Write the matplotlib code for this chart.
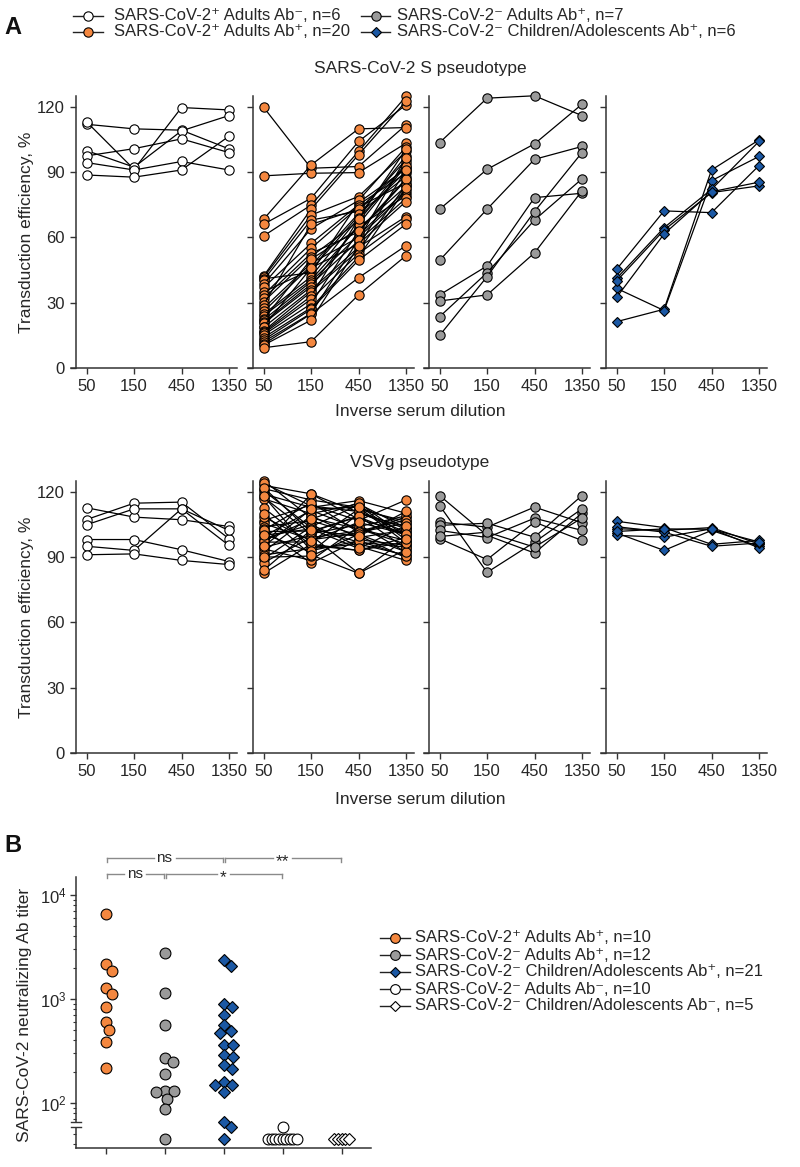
import numpy as np
import matplotlib
matplotlib.use('Agg')
import matplotlib.pyplot as plt
from matplotlib.lines import Line2D
from matplotlib.patches import Rectangle
import matplotlib.transforms as mtransforms
from matplotlib import font_manager

# ---------------- data ----------------
dilutions = ['50', '150', '450', '1350']
yticks_A = [0, 30, 60, 90, 120]

legend_A_labels = ['SARS-CoV-2\u207a Adults Ab\u207b, n=6',
                   'SARS-CoV-2\u207a Adults Ab\u207a, n=20',
                   'SARS-CoV-2\u207b Adults Ab\u207a, n=7',
                   'SARS-CoV-2\u207b Children/Adolescents Ab\u207a, n=6']

# S pseudotype (transduction efficiency %, at 50/150/450/1350)
S_white = [
    [112.0, 109.9, 109.3, 100.7],
    [113.1, 91.3, 119.7, 118.6],
    [99.9, 92.3, 109.0, 116.0],
    [97.5, 100.8, 105.3, 99.0],
    [94.4, 91.0, 94.9, 91.0],
    [88.7, 87.7, 91.0, 106.5],
]
S_orange = [
    [119.8, 91.8, 92.6, 111.7], [88.3, 89.5, 89.8, 103.3], [68.4, 93.3, 109.9, 110.5],
    [66.1, 78.0, 104.1, 120.9], [60.7, 74.9, 99.5, 124.8], [42.3, 73.0, 98.0, 122.5],
    [41.7, 70.3, 78.8, 99.5], [41.0, 43.8, 76.0, 91.5], [40.5, 68.0, 72.0, 95.6],
    [38.6, 64.0, 77.0, 101.5], [37.0, 57.3, 75.0, 89.5], [35.0, 45.1, 70.0, 97.5],
    [33.6, 55.0, 74.0, 85.0], [32.0, 52.7, 62.5, 86.4], [30.5, 51.2, 67.5, 94.0],
    [29.0, 66.0, 73.0, 92.5], [27.5, 48.1, 60.0, 80.5], [26.0, 47.0, 71.0, 88.0],
    [24.7, 42.0, 69.0, 90.5], [24.0, 40.5, 65.0, 79.1], [22.4, 50.0, 64.0, 83.5],
    [22.1, 39.7, 61.0, 81.8], [21.0, 38.5, 58.5, 78.0], [20.5, 37.4, 66.0, 93.0],
    [19.0, 46.0, 57.0, 76.5], [18.7, 35.9, 55.5, 69.6], [17.0, 35.0, 54.0, 84.0],
    [16.5, 33.0, 68.5, 100.5], [15.9, 31.6, 52.5, 68.5], [15.2, 29.5, 63.0, 87.0],
    [14.0, 27.7, 51.0, 82.5], [12.9, 27.0, 49.5, 66.1], [12.1, 25.1, 59.0, 96.5],
    [11.0, 24.8, 41.5, 56.2], [10.5, 22.0, 56.0, 91.0], [9.3, 12.1, 33.6, 51.6],
]
S_gray = [
    [103.6, 124.0, 125.1, 116.0],
    [73.0, 91.3, 103.0, 121.2],
    [49.5, 73.0, 95.9, 101.8],
    [33.6, 46.9, 78.3, 80.3],
    [30.8, 33.6, 52.9, 81.4],
    [23.6, 43.8, 68.0, 86.9],
    [15.0, 42.0, 71.9, 99.0],
]
S_blue = [
    [21.3, 27.0, 91.0, 104.8],
    [36.6, 26.4, 86.1, 97.2],
    [45.4, 72.2, 71.4, 93.0],
    [41.2, 64.5, 82.1, 104.1],
    [40.0, 63.4, 80.6, 83.7],
    [32.5, 61.6, 81.0, 85.4],
]

# VSVg pseudotype
V_white = [
    [112.7, 108.4, 107.2, 104.1],
    [107.3, 114.8, 115.3, 98.5],
    [104.9, 112.2, 112.2, 102.3],
    [98.1, 98.1, 93.4, 88.0],
    [95.0, 93.1, 112.2, 95.4],
    [91.1, 91.5, 88.5, 86.6],
]
V_orange = [
    [125.2, 108.0, 103.0, 97.7], [123.0, 119.1, 110.7, 101.5], [121.5, 116.3, 112.9, 105.3],
    [120.6, 103.5, 96.9, 94.6], [119.0, 112.9, 116.0, 110.2], [117.5, 100.7, 105.0, 92.3],
    [116.8, 110.0, 114.5, 103.5], [112.7, 95.4, 93.1, 99.0], [106.8, 114.0, 106.8, 116.3],
    [105.5, 98.0, 101.0, 108.5], [104.0, 106.8, 100.0, 89.7], [103.0, 87.2, 98.0, 95.5],
    [101.8, 102.0, 108.5, 100.0], [100.7, 92.3, 110.0, 104.0], [99.5, 111.5, 103.0, 96.0],
    [98.5, 105.0, 95.0, 88.5], [96.9, 97.0, 112.0, 106.5], [95.5, 119.0, 107.5, 101.0],
    [94.5, 100.0, 82.6, 93.5], [93.8, 88.5, 104.0, 109.0], [92.5, 109.0, 99.0, 102.5],
    [91.0, 94.0, 96.0, 91.0], [89.2, 104.0, 114.0, 98.0], [87.5, 99.0, 102.0, 107.0],
    [82.6, 96.0, 93.1, 97.0], [124.0, 113.5, 111.0, 103.0], [122.0, 101.5, 109.0, 94.0],
    [118.0, 93.0, 97.5, 90.5], [102.5, 115.0, 101.5, 105.5], [97.5, 107.5, 115.0, 99.5],
    [90.0, 90.5, 100.5, 92.5], [100.0, 103.0, 94.0, 104.5], [108.5, 97.5, 106.0, 100.5],
    [95.0, 112.0, 113.0, 96.5], [84.0, 102.5, 99.5, 111.0], [110.0, 91.0, 82.6, 98.5],
]
V_gray = [
    [118.3, 100.0, 91.9, 110.2],
    [113.7, 83.0, 96.9, 112.2],
    [106.1, 103.8, 113.0, 105.8],
    [104.6, 105.6, 99.2, 118.3],
    [102.3, 99.0, 107.9, 102.3],
    [98.5, 88.9, 106.1, 97.7],
    [99.5, 101.5, 94.6, 108.0],
]
V_blue = [
    [106.5, 103.6, 95.9, 97.7],
    [103.1, 102.3, 103.6, 96.1],
    [101.1, 93.1, 102.3, 95.0],
    [100.0, 99.2, 103.0, 94.3],
    [104.0, 101.5, 95.0, 96.5],
    [101.8, 103.0, 102.8, 97.0],
]

# Panel B: neutralizing Ab titers
B_orange = [6520, 2160, 1860, 1285, 1110, 832, 601, 500, 386, 216]
B_gray = [2790, 1135, 558, 273, 246, 189, 131, 131, 128, 108, 87, 45]
B_blue = [2355, 2075, 896, 838, 702, 562, 495, 470, 359, 359, 290, 275, 230, 211,
          160, 149, 149, 128, 66, 59, 45]
B_white_c = [59, 45, 45, 45, 45, 45, 45, 45, 45, 45]
B_white_d = [45, 45, 45, 45, 45]
legend_B_labels = ['SARS-CoV-2\u207a Adults Ab\u207a, n=10',
                   'SARS-CoV-2\u207b Adults Ab\u207a, n=12',
                   'SARS-CoV-2\u207b Children/Adolescents Ab\u207a, n=21',
                   'SARS-CoV-2\u207b Adults Ab\u207b, n=10',
                   'SARS-CoV-2\u207b Children/Adolescents Ab\u207b, n=5']
sig_row1 = [(0, 2, 'ns'), (2, 4, '**')]
sig_row2 = [(0, 1, 'ns'), (1, 3, '*')]

# ---------------- style ----------------
names = {f.name for f in font_manager.fontManager.ttflist}
BASE = 'Liberation Sans' if 'Liberation Sans' in names else 'DejaVu Sans'
NARROW = 'Liberation Sans Narrow' if 'Liberation Sans Narrow' in names else BASE
plt.rcParams['font.family'] = [BASE, 'DejaVu Sans']
plt.rcParams['mathtext.fontset'] = 'custom'
plt.rcParams['mathtext.rm'] = BASE
plt.rcParams['mathtext.it'] = BASE + ':italic'
plt.rcParams['mathtext.bf'] = BASE + ':bold'

TXT = '#262626'
AXC = '#333333'
ORANGE = '#F4873F'
GRAY = '#9A9A9A'
BLUE = '#1B58A4'
WHITE = '#FFFFFF'

W, H = 800, 1167
fig = plt.figure(figsize=(W / 100, H / 100), dpi=100)


def fx(px):
    return px / W


def fy(py):
    return 1 - py / H


# ---------------- Panel A ----------------
panel_lefts = [71, 248, 424, 601]
PW = 166
rows = [(96, 368, [S_white, S_orange, S_gray, S_blue]),
        (481, 753, [V_white, V_orange, V_gray, V_blue])]
styles = [('o', WHITE, 6.7), ('o', ORANGE, 6.7), ('o', GRAY, 6.7), ('D', BLUE, 5.4)]
x = np.arange(len(dilutions))

for top, bot, datasets in rows:
    for j, (L, data) in enumerate(zip(panel_lefts, datasets)):
        ax = fig.add_axes([fx(L), fy(bot), fx(PW), (bot - top) / H])
        mk, fc, ms = styles[j]
        for series in data:
            ax.plot(x, series, color='black', lw=0.9, marker=mk, ms=ms,
                    mfc=fc, mec='black', mew=0.8, zorder=3, clip_on=False)
        ax.set_xlim(-0.33, 3.17)
        ax.set_ylim(0, 125)
        for s in ['top', 'right']:
            ax.spines[s].set_visible(False)
        ax.spines['left'].set_position(('data', -0.225))
        for s in ['left', 'bottom']:
            ax.spines[s].set_color(AXC)
            ax.spines[s].set_linewidth(1.1)
        ax.set_xticks(x)
        ax.set_xticklabels(dilutions)
        ax.set_yticks(yticks_A)
        if j > 0:
            ax.set_yticklabels([])
        ax.tick_params(direction='out', length=4, width=1.0, colors=AXC,
                       labelcolor=TXT, labelsize=12, pad=4)
    fig.text(fx(27), fy((top + bot) / 2), 'Transduction efficiency, %', rotation=90,
             ha='center', va='center', fontsize=12.5, color=TXT)

fig.text(fx(420), fy(68), 'SARS-CoV-2 S pseudotype', ha='center', va='center',
         fontsize=12.5, color=TXT)
fig.text(fx(420), fy(412), 'Inverse serum dilution', ha='center', va='center',
         fontsize=12.5, color=TXT)
fig.text(fx(420), fy(462), 'VSVg pseudotype', ha='center', va='center',
         fontsize=12.5, color=TXT)
fig.text(fx(420), fy(800), 'Inverse serum dilution', ha='center', va='center',
         fontsize=12.5, color=TXT)


def legend_entry(xl0, xl1, y, marker, face, ms, label, xt):
    fig.add_artist(Line2D([fx(xl0), fx(xl1)], [fy(y), fy(y)], transform=fig.transFigure,
                          color='#222222', lw=1.0))
    fig.add_artist(Line2D([fx((xl0 + xl1) / 2)], [fy(y)], transform=fig.transFigure,
                          marker=marker, ms=ms, mfc=face, mec='black', mew=0.8, ls='none'))
    fig.text(fx(xt), fy(y), label, ha='left', va='center', fontsize=12, color=TXT)


legA_pos = [(73, 103, 16, 114), (73, 103, 32, 114), (361, 390, 16, 397), (361, 390, 32, 397)]
legA_style = [('o', WHITE, 6.7), ('o', ORANGE, 6.7), ('o', GRAY, 6.7), ('D', BLUE, 5.4)]
for (a, b, y, xt), (mk, fc, ms), lab in zip(legA_pos, legA_style, legend_A_labels):
    legend_entry(a, b, y, mk, fc, ms, lab, xt)

fig.text(fx(13), fy(28), 'A', ha='center', va='center', fontsize=17, fontweight='bold',
         family=[NARROW, 'DejaVu Sans'], color='#111111')
fig.text(fx(13), fy(845), 'B', ha='center', va='center', fontsize=17, fontweight='bold',
         family=[NARROW, 'DejaVu Sans'], color='#111111')

# ---------------- Panel B ----------------
BL, BB, BT, BR = 76, 1148, 877, 371
axB = fig.add_axes([fx(BL), fy(BB), fx(BR - BL), (BB - BT) / H])
axB.set_yscale('log')
axB.set_xlim(-0.5, 4.5)
axB.set_ylim(10 ** 1.567, 10 ** 4.173)
ppd = (BB - BT) / (4.173 - 1.567)        # pixels per decade
ppx = (BR - BL) / 5.0                    # pixels per category


def swarm(values, diam=9.0):
    vals = np.asarray(values, dtype=float)
    ys = np.log10(vals) * ppd
    xs = np.zeros(len(vals))
    uniq, counts = np.unique(vals, return_counts=True)
    tight = {u for u, c in zip(uniq, counts) if c >= 4}
    placed = []
    for u in tight:
        idx = np.where(vals == u)[0]
        n = len(idx)
        step = 3.6
        offs = (np.arange(n) - (n - 1) / 2) * step
        xs[idx] = offs
    order = np.argsort(-ys)
    cands = [0.0]
    for k in range(1, 80):
        cands += [k * 0.5, -k * 0.5]
    for i in order:
        if vals[i] in tight:
            continue
        y = ys[i]
        for c in cands:
            if all((c - px) ** 2 + (y - py) ** 2 >= diam ** 2 for px, py in placed):
                break
        xs[i] = c
        placed.append((c, y))
    return xs / ppx


groupsB = [(B_orange, 'o', ORANGE, 7.8), (B_gray, 'o', GRAY, 7.8),
           (B_blue, 'D', BLUE, 6.2), (B_white_c, 'o', WHITE, 7.8),
           (B_white_d, 'D', WHITE, 6.2)]
for gi, (vals, mk, fc, ms) in enumerate(groupsB):
    offs = swarm(vals)
    axB.plot(gi + offs, vals, ls='none', marker=mk, ms=ms, mfc=fc, mec='black',
             mew=0.8, zorder=3, clip_on=False)

for s in ['top', 'right']:
    axB.spines[s].set_visible(False)
for s in ['left', 'bottom']:
    axB.spines[s].set_color(AXC)
    axB.spines[s].set_linewidth(1.1)
axB.set_xticks(range(5))
axB.set_xticklabels([])
axB.set_yticks([100, 1000, 10000])
axB.tick_params(which='major', direction='out', length=4, width=1.0, colors=AXC,
                labelcolor=TXT, labelsize=12, pad=3)
axB.tick_params(which='minor', direction='out', length=2.2, width=0.8, colors=AXC)
fig.text(fx(25), fy(1015), 'SARS-CoV-2 neutralizing Ab titer', rotation=90,
         ha='center', va='center', fontsize=12.5, color=TXT)

# axis break on the y axis
brk_hi, brk_lo = 10 ** (2 - 19 / ppd), 10 ** (2 - 24 / ppd)
bt = mtransforms.blended_transform_factory(axB.transAxes, axB.transData)
dx = 5 / (BR - BL)
axB.add_patch(Rectangle((-dx, brk_lo), 2 * dx, brk_hi - brk_lo, transform=bt,
                        facecolor='white', edgecolor='none', zorder=5, clip_on=False))
for yb in (brk_hi, brk_lo):
    axB.add_line(Line2D([-dx, dx], [yb, yb], transform=bt, color=AXC, lw=1.0,
                        zorder=6, clip_on=False))

# significance brackets
st = mtransforms.blended_transform_factory(axB.transData, fig.transFigure)


def bracket(i1, i2, ypx, label):
    x1 = i1 + 1.0 / ppx
    x2 = i2 - 1.0 / ppx
    xm = (i1 + i2) / 2
    half = (11 if label == 'ns' else (6.5 if label == '*' else 9.5)) / ppx
    kw = dict(transform=st, color='#8a8a8a', lw=1.0, clip_on=False)
    fig.add_artist(Line2D([x1, xm - half], [fy(ypx), fy(ypx)], **kw))
    fig.add_artist(Line2D([xm + half, x2], [fy(ypx), fy(ypx)], **kw))
    fig.add_artist(Line2D([x1, x1], [fy(ypx), fy(ypx + 4)], **kw))
    fig.add_artist(Line2D([x2, x2], [fy(ypx), fy(ypx + 4)], **kw))
    if label == 'ns':
        fig.text(xm, fy(ypx + 4), label, transform=st, ha='center', va='baseline',
                 fontsize=11, color=TXT)
    else:
        fig.text(xm, fy(ypx + 8.5), label, transform=st, ha='center', va='baseline',
                 fontsize=12.5, color=TXT)


for i1, i2, lab in sig_row1:
    bracket(i1, i2, 858, lab)
for i1, i2, lab in sig_row2:
    bracket(i1, i2, 874, lab)

legB_style = [('o', ORANGE, 7.0), ('o', GRAY, 7.0), ('D', BLUE, 5.6),
              ('o', WHITE, 7.0), ('D', WHITE, 5.6)]
for k, ((mk, fc, ms), lab) in enumerate(zip(legB_style, legend_B_labels)):
    legend_entry(380, 410, 938 + 17 * k, mk, fc, ms, lab, 415)

fig.savefig('out.png', dpi=100)
